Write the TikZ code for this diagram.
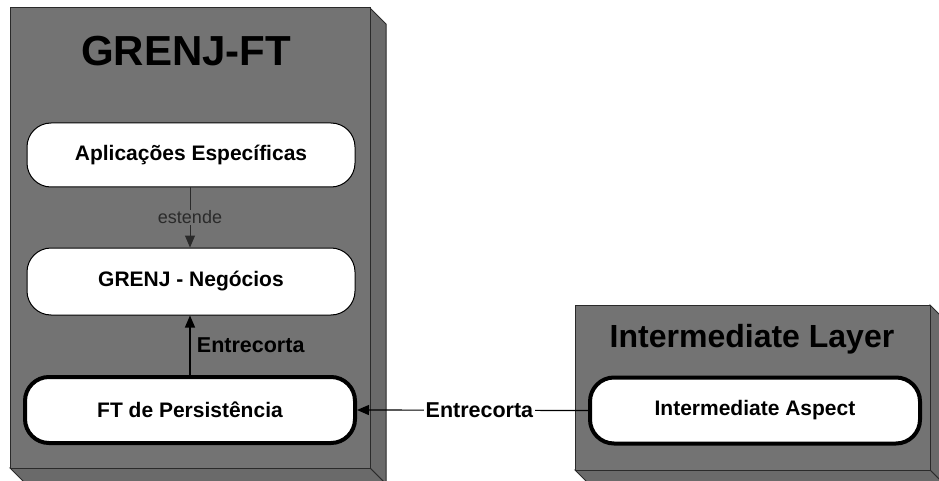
\documentclass[tikz,border=0pt]{standalone}
\usepackage{fontspec}
\setmainfont{Liberation Sans}
\usetikzlibrary{arrows.meta}
\definecolor{boxgray}{HTML}{737373}
\definecolor{sidegray}{HTML}{6A6A6A}
\definecolor{edgecol}{HTML}{2A2A2A}
\tikzset{
  face/.style={fill=boxgray, draw=edgecol, line width=1pt},
  side/.style={fill=sidegray, draw=edgecol, line width=1pt},
  comp/.style={draw=black, fill=white, rounded corners=24pt, inner sep=0pt,
    font=\bfseries\fontsize{21}{24}\selectfont, line width=1pt},
  compthick/.style={comp, line width=4pt},
  conn/.style={line width=1.2pt, draw=black},
  tip/.style={-{Triangle[length=12pt,width=10pt]}},
  lbl/.style={font=\bfseries\fontsize{21.5}{25}\selectfont},
}
\begin{document}
\begin{tikzpicture}[x=1pt,y=-1pt]
\useasboundingbox (0,0) rectangle (939,481);
\clip (0,0) rectangle (939,481);
% left 3D box
\draw[side] (370,8) -- (386,24) -- (386,484) -- (370,468) -- cycle;
\draw[side] (10,468) -- (26,484) -- (386,484) -- (370,468) -- cycle;
\draw[face] (10,8) rectangle (370,468);
\node[font=\bfseries\fontsize{42}{48}\selectfont] (t1) at (186,51) {GRENJ-FT};
% right 3D box
\draw[side] (930,305) -- (946,321) -- (946,486) -- (930,470) -- cycle;
\draw[side] (575,470) -- (591,486) -- (946,486) -- (930,470) -- cycle;
\draw[face] (575,305) rectangle (930,470);
\node[font=\bfseries\fontsize{32}{38}\selectfont] (t2) at (752,339) {Intermediate Layer};
% components
\node[comp, minimum width=328pt, minimum height=64pt] (app) at (191,155) {Aplicações Específicas};
\node[comp, minimum width=328pt, minimum height=67pt] (neg) at (191,281.5) {GRENJ - Negócios};
\node[compthick, minimum width=330pt, minimum height=66pt] (ft) at (190,410) {FT de Persistência};
\node[compthick, minimum width=330pt, minimum height=66pt] (ia) at (755,410.5) {Intermediate Aspect};
% connectors
\draw[conn, draw=edgecol, line width=1pt, tip] (app.south -| 190,0) -- node[fill=boxgray, inner sep=1pt, text=edgecol, font=\fontsize{18}{21}\selectfont] (est) {estende} (neg.north -| 190,0);
\draw[conn, tip] (ft.north -| 190,0) -- node[right=3pt, lbl] (e1) {Entrecorta} (neg.south -| 190,0);
\draw[conn, tip] (ia.west) -- node[fill=white, inner sep=2pt, pos=0.47, lbl] (e2) {Entrecorta} (ft.east);
\end{tikzpicture}
\end{document}
